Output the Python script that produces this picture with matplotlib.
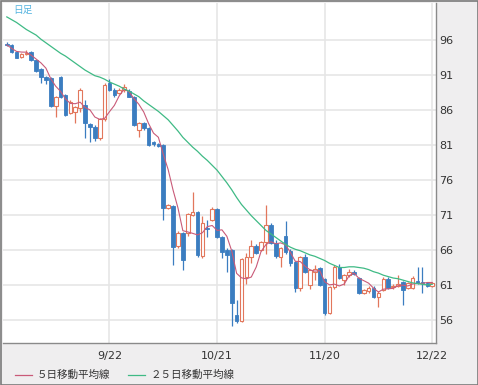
import matplotlib
matplotlib.use("Agg")
import matplotlib.pyplot as plt
import matplotlib.transforms as mtransforms
from matplotlib.lines import Line2D
from matplotlib.patches import Rectangle
import numpy as np
import pandas as pd

# ---------------- data ----------------
opens = [95.5, 95.3, 94.3, 93.6, 94.0, 94.3, 93.1, 91.8, 90.7, 90.6,
         86.6, 90.7, 88.1, 85.6, 85.7, 86.3, 86.7, 84.0, 83.6, 82.0,
         84.7, 89.9, 88.9, 88.5, 88.8, 88.7, 87.9, 83.1, 84.1, 83.4,
         81.4, 81.1, 81.0, 72.0, 72.3, 66.6, 68.4, 68.4, 71.0, 71.4,
         65.1, 69.2, 70.3, 71.9, 67.9, 66.0, 66.0, 56.7, 55.9, 62.2,
         65.0, 66.6, 66.0, 67.1, 69.6, 67.0, 65.0, 68.0, 65.9, 64.3,
         60.6, 65.0, 61.0, 62.9, 63.4, 61.8, 57.0, 60.7, 63.6, 61.7,
         62.4, 62.9, 62.0, 59.9, 60.1, 60.6, 59.3, 60.3, 61.9, 60.7,
         60.9, 61.4, 60.6, 60.6, 61.6, 61.5, 61.3, 60.9]
closes = [95.3, 94.3, 93.5, 94.0, 94.2, 93.1, 91.6, 90.7, 90.3, 86.6,
          87.8, 87.9, 85.3, 87.1, 86.4, 88.9, 84.1, 83.6, 82.0, 84.7,
          89.6, 88.9, 88.1, 88.9, 89.3, 87.9, 83.9, 84.1, 83.4, 81.0,
          81.1, 80.9, 72.0, 72.4, 66.4, 68.4, 64.6, 71.1, 71.4, 65.3,
          69.9, 69.0, 71.9, 67.9, 65.7, 65.3, 58.5, 55.9, 64.7, 65.0,
          66.6, 65.6, 67.1, 69.6, 67.0, 65.1, 66.3, 65.7, 64.2, 60.6,
          65.0, 62.9, 63.1, 63.3, 61.0, 57.0, 60.7, 63.6, 62.0, 62.4,
          62.9, 62.6, 59.9, 60.3, 60.6, 59.3, 59.9, 61.9, 60.6, 60.9,
          61.2, 60.3, 61.3, 62.0, 61.3, 61.3, 60.9, 61.3]
highs = [95.7, 95.4, 94.4, 94.2, 94.6, 94.4, 93.2, 92.0, 90.9, 90.7,
         88.0, 90.8, 88.3, 87.4, 86.6, 89.1, 87.4, 84.2, 83.8, 84.9,
         89.8, 90.4, 89.1, 89.2, 89.7, 89.0, 88.0, 84.3, 84.3, 83.6,
         81.6, 81.3, 81.2, 72.6, 72.5, 68.7, 68.6, 71.3, 74.3, 71.6,
         70.9, 70.3, 72.1, 72.0, 68.0, 66.3, 66.2, 58.9, 64.9, 65.6,
         67.4, 66.8, 67.3, 72.4, 69.8, 67.4, 66.5, 70.2, 66.1, 64.4,
         65.2, 65.5, 63.3, 63.9, 63.6, 62.0, 60.9, 63.8, 64.0, 62.6,
         63.3, 63.1, 62.2, 60.5, 60.8, 60.8, 60.1, 62.1, 62.1, 61.1,
         62.4, 61.6, 61.5, 62.3, 63.6, 63.6, 61.5, 61.5]
lows = [95.1, 94.2, 93.4, 93.5, 93.9, 93.0, 91.4, 89.9, 89.7, 86.4,
        85.0, 87.7, 85.1, 85.4, 84.1, 85.7, 82.0, 81.4, 81.6, 81.7,
        84.5, 88.7, 87.9, 88.3, 88.6, 87.8, 83.7, 82.1, 83.2, 80.8,
        80.9, 80.7, 70.3, 71.8, 63.9, 66.3, 63.1, 68.0, 70.8, 65.0,
        64.9, 67.9, 70.1, 67.7, 64.9, 62.8, 55.2, 55.6, 55.7, 61.2,
        64.2, 65.4, 65.8, 65.5, 66.8, 64.9, 63.6, 65.5, 63.7, 60.0,
        60.2, 62.7, 60.5, 61.7, 60.8, 56.7, 56.8, 60.5, 61.8, 61.0,
        62.2, 62.4, 59.7, 59.7, 59.9, 59.1, 57.9, 60.1, 60.4, 60.5,
        60.7, 58.1, 60.4, 60.4, 61.1, 59.9, 60.7, 60.7]
ma25 = [99.3, 98.9, 98.5, 98.0, 97.5, 97.1, 96.7, 96.1, 95.6, 95.1,
        94.6, 94.1, 93.7, 93.2, 92.7, 92.2, 91.7, 91.3, 90.9, 90.7,
        90.4, 90.0, 89.7, 89.4, 89.0, 88.7, 88.3, 87.9, 87.3, 86.8,
        86.3, 85.8, 85.2, 84.6, 83.8, 83.0, 82.1, 81.4, 80.7, 80.1,
        79.4, 78.8, 78.1, 77.4, 76.5, 75.6, 74.6, 73.5, 72.5, 71.7,
        70.9, 70.2, 69.5, 68.8, 68.3, 67.8, 67.3, 66.8, 66.4, 66.1,
        65.9, 65.6, 65.3, 65.1, 64.8, 64.5, 64.1, 63.8, 63.5, 63.5,
        63.6, 63.6, 63.5, 63.4, 63.2, 62.9, 62.7, 62.4, 62.2, 62.0,
        61.9, 61.7, 61.5, 61.3, 61.2, 61.1, 61.0, 61.1]
date_labels = ["9/22", "10/21", "11/20", "12/22"]
date_index = [21, 43, 65, 87]
y_ticks = [56, 61, 66, 71, 76, 81, 86, 91, 96]
legend_labels = ["５日移動平均線", "２５日移動平均線"]
title_text = "日足"

# ---------------- styling ----------------
W, H = 478, 385
BLUE = "#3b7dc0"
RED = "#e2775c"
MA5_C = "#c95a78"
MA25_C = "#3fba85"
PANEL = "#efeeef"
TXT = "#333333"
JP = ["Noto Sans CJK JP", "DejaVu Sans"]

fig = plt.figure(figsize=(W / 100, H / 100), dpi=100, facecolor=PANEL)
ax = fig.add_axes([3 / W, (H - 343) / H, (436 - 3) / W, (343 - 3) / H])
ax.set_facecolor("white")

x = np.arange(len(closes))
o = np.array(opens); c = np.array(closes)
hi = np.array(highs); lo = np.array(lows)
up = c >= o

# grid
for v in y_ticks:
    ax.axhline(v, color="#e6e6e6", lw=1.2, zorder=0)
for xi in date_index:
    ax.axvline(xi, color="#e6e6e6", lw=1.2, zorder=0)

# wicks
ax.vlines(x[up], lo[up], hi[up], color=RED, lw=0.9, zorder=2)
ax.vlines(x[~up], lo[~up], hi[~up], color=BLUE, lw=0.9, zorder=2)
# bodies
bw = 0.74
bot = np.minimum(o, c)
hgt = np.maximum(np.abs(c - o), 0.12)
ax.bar(x[up], hgt[up], bottom=bot[up], width=bw, facecolor="white",
       edgecolor=RED, linewidth=0.8, zorder=3)
ax.bar(x[~up], hgt[~up], bottom=bot[~up], width=bw, facecolor=BLUE,
       edgecolor=BLUE, linewidth=0.6, zorder=3)

# moving averages
ma5 = pd.Series(closes).rolling(5, min_periods=1).mean().values
ax.plot(x, ma5, color=MA5_C, lw=0.8, zorder=4)
ax.plot(x, ma25, color=MA25_C, lw=0.9, zorder=4)

ax.set_xlim((3 - 6.8) / 4.89, (436 - 6.8) / 4.89)
ax.set_ylim(56 - 23 / 7, 96 + 37 / 7)

# axes styling
for s in ["top", "left"]:
    ax.spines[s].set_visible(False)
ax.spines["right"].set_color("#8a8a8a")
ax.spines["bottom"].set_color("#8a8a8a")
ax.spines["right"].set_linewidth(1.0)
ax.spines["bottom"].set_linewidth(1.0)
ax.yaxis.tick_right()
ax.set_yticks(y_ticks)
ax.set_yticklabels([str(v) for v in y_ticks])
ax.tick_params(axis="y", length=0, pad=2, labelsize=8, labelcolor=TXT)
ax.set_xticks([])

# date labels
trans = mtransforms.blended_transform_factory(ax.transData, fig.transFigure)
for xi, lab in zip(date_index, date_labels):
    fig.text(xi, 1 - 356 / H, lab, transform=trans, ha="center", va="center",
             fontsize=8, color=TXT)

# title
fig.text(13 / W, 1 - 9.5 / H, title_text, ha="left", va="center",
         fontsize=7, color="#55b4e0", family=JP)

# legend
ly = 1 - 374.5 / H
fig.add_artist(Line2D([15 / W, 32 / W], [ly, ly], color=MA5_C, lw=0.9,
                      transform=fig.transFigure))
fig.text(37 / W, ly, legend_labels[0], ha="left", va="center",
         fontsize=7.6, color=TXT, family=JP)
fig.add_artist(Line2D([128 / W, 145 / W], [ly, ly], color=MA25_C, lw=0.9,
                      transform=fig.transFigure))
fig.text(151 / W, ly, legend_labels[1], ha="left", va="center",
         fontsize=7.6, color=TXT, family=JP)

# outer border
fig.add_artist(Rectangle((0.5 / W, 0.5 / H), (W - 1) / W, (H - 1) / H,
                         transform=fig.transFigure, fill=False,
                         edgecolor="#7a7a7a", lw=1.2))

fig.savefig("out.png", dpi=100, facecolor=PANEL)
